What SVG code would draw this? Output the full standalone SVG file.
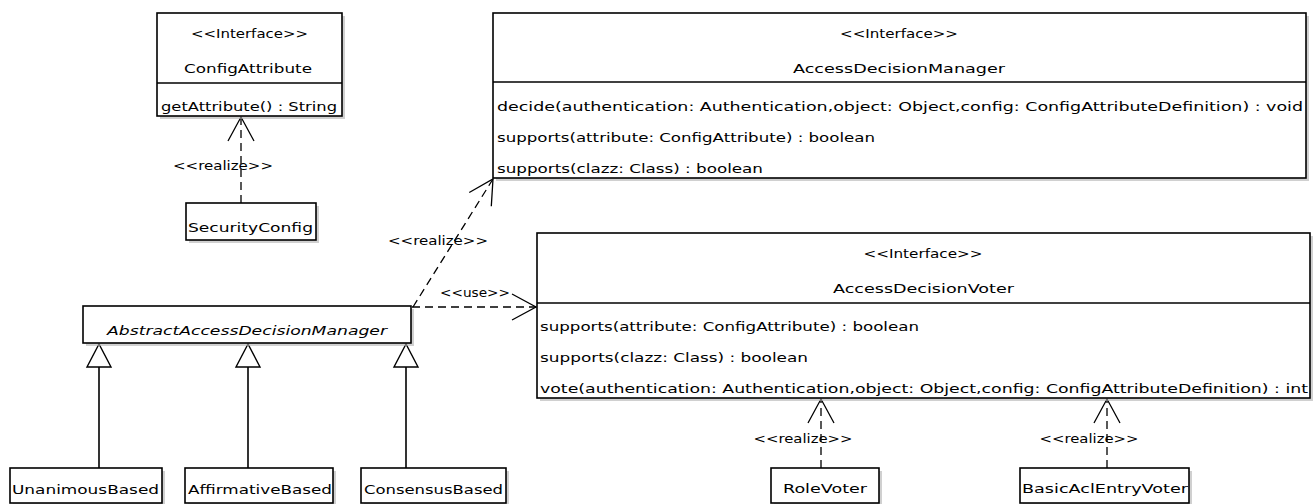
<svg xmlns="http://www.w3.org/2000/svg" width="1315" height="504" viewBox="0 0 1315 504">
<style>
  .box { fill: #fff; stroke: #000; stroke-width: 1.6; }
  .sh { fill: #b0b0b0; opacity: 0.6; }
  .div { stroke: #000; stroke-width: 1.6; }
  text { font-family: "DejaVu Sans", "Liberation Sans", sans-serif; font-size: 13px; fill: #000; }
  .c { text-anchor: middle; }
  .it { font-style: italic; }
  .dash { fill: none; stroke: #000; stroke-width: 1.3; stroke-dasharray: 8 5; }
  .solid { fill: none; stroke: #000; stroke-width: 1.6; }
  .tri { fill: #fff; stroke: #000; stroke-width: 1.4; }
</style>
<defs>
  <marker id="open" markerWidth="30" markerHeight="30" refX="24" refY="13" orient="auto" markerUnits="userSpaceOnUse" overflow="visible">
    <path d="M0,0 L24,13 L0,26" fill="none" stroke="#000" stroke-width="1.3" stroke-dasharray="none"/>
  </marker>
</defs>

<g id="connectors">
  <!-- SecurityConfig realizes ConfigAttribute -->
  <path class="dash" d="M241,203 L241,117" marker-end="url(#open)"/>
  <text x="223" y="170" class="c" textLength="100" lengthAdjust="spacingAndGlyphs">&lt;&lt;realize&gt;&gt;</text>
  <!-- AbstractAccessDecisionManager realizes AccessDecisionManager -->
  <path class="dash" d="M413,307 L493,179" marker-end="url(#open)"/>
  <text x="438" y="245" class="c" textLength="100" lengthAdjust="spacingAndGlyphs">&lt;&lt;realize&gt;&gt;</text>
  <!-- use -->
  <path class="dash" d="M412,307 L536,307" marker-end="url(#open)"/>
  <text x="475" y="297" class="c" textLength="70" lengthAdjust="spacingAndGlyphs">&lt;&lt;use&gt;&gt;</text>
  <!-- RoleVoter realize -->
  <path class="dash" d="M821,468 L821,399" marker-end="url(#open)"/>
  <text x="803" y="443" class="c" textLength="99" lengthAdjust="spacingAndGlyphs">&lt;&lt;realize&gt;&gt;</text>
  <!-- BasicAclEntryVoter realize -->
  <path class="dash" d="M1107,468 L1107,399" marker-end="url(#open)"/>
  <text x="1089" y="443" class="c" textLength="99" lengthAdjust="spacingAndGlyphs">&lt;&lt;realize&gt;&gt;</text>
  <!-- generalizations -->
  <path class="solid" d="M99,468 L99,367"/>
  <polygon class="tri" points="99,344 87,367 111,367"/>
  <path class="solid" d="M248,468 L248,367"/>
  <polygon class="tri" points="248,344 236,367 260,367"/>
  <path class="solid" d="M406,468 L406,367"/>
  <polygon class="tri" points="406,344 394,367 418,367"/>
</g>

<g id="ConfigAttribute">
  <rect class="sh" x="160" y="16" width="185" height="103"/>
  <rect class="box" x="157" y="13" width="185" height="103"/>
  <line class="div" x1="157" y1="83" x2="342" y2="83"/>
  <text x="249.5" y="38" class="c" textLength="117" lengthAdjust="spacingAndGlyphs">&lt;&lt;Interface&gt;&gt;</text>
  <text x="248" y="73" class="c" textLength="128" lengthAdjust="spacingAndGlyphs">ConfigAttribute</text>
  <text x="161" y="111" textLength="176" lengthAdjust="spacingAndGlyphs">getAttribute() : String</text>
</g>

<g id="SecurityConfig">
  <rect class="sh" x="189" y="206" width="130" height="37"/>
  <rect class="box" x="186" y="203" width="130" height="37"/>
  <text x="188" y="232" textLength="125" lengthAdjust="spacingAndGlyphs">SecurityConfig</text>
</g>

<g id="AccessDecisionManager">
  <rect class="sh" x="496" y="16" width="813" height="165"/>
  <rect class="box" x="493" y="13" width="813" height="165"/>
  <line class="div" x1="493" y1="82" x2="1306" y2="82"/>
  <text x="899" y="38" class="c" textLength="118" lengthAdjust="spacingAndGlyphs">&lt;&lt;Interface&gt;&gt;</text>
  <text x="899" y="73" class="c" textLength="212" lengthAdjust="spacingAndGlyphs">AccessDecisionManager</text>
  <text x="497" y="111" textLength="806" lengthAdjust="spacingAndGlyphs">decide(authentication: Authentication,object: Object,config: ConfigAttributeDefinition) : void</text>
  <text x="497" y="142" textLength="378" lengthAdjust="spacingAndGlyphs">supports(attribute: ConfigAttribute) : boolean</text>
  <text x="497" y="173" textLength="266" lengthAdjust="spacingAndGlyphs">supports(clazz: Class) : boolean</text>
</g>

<g id="AccessDecisionVoter">
  <rect class="sh" x="540" y="236" width="773" height="165"/>
  <rect class="box" x="537" y="233" width="773" height="165"/>
  <line class="div" x1="537" y1="303" x2="1310" y2="303"/>
  <text x="923" y="258" class="c" textLength="119" lengthAdjust="spacingAndGlyphs">&lt;&lt;Interface&gt;&gt;</text>
  <text x="923.5" y="293" class="c" textLength="181" lengthAdjust="spacingAndGlyphs">AccessDecisionVoter</text>
  <text x="540" y="331" textLength="379" lengthAdjust="spacingAndGlyphs">supports(attribute: ConfigAttribute) : boolean</text>
  <text x="540" y="362" textLength="268" lengthAdjust="spacingAndGlyphs">supports(clazz: Class) : boolean</text>
  <text x="540" y="393" textLength="768" lengthAdjust="spacingAndGlyphs">vote(authentication: Authentication,object: Object,config: ConfigAttributeDefinition) : int</text>
</g>

<g id="AbstractAccessDecisionManager">
  <rect class="sh" x="86" y="309" width="328" height="37"/>
  <rect class="box" x="83" y="306" width="328" height="37"/>
  <text x="247" y="335" class="c it" textLength="280" lengthAdjust="spacingAndGlyphs">AbstractAccessDecisionManager</text>
</g>

<g id="UnanimousBased">
  <rect class="sh" x="13" y="471" width="152" height="35"/>
  <rect class="box" x="10" y="468" width="152" height="35"/>
  <text x="12" y="494" textLength="147" lengthAdjust="spacingAndGlyphs">UnanimousBased</text>
</g>

<g id="AffirmativeBased">
  <rect class="sh" x="188" y="471" width="148" height="35"/>
  <rect class="box" x="185" y="468" width="148" height="35"/>
  <text x="188" y="494" textLength="144" lengthAdjust="spacingAndGlyphs">AffirmativeBased</text>
</g>

<g id="ConsensusBased">
  <rect class="sh" x="364" y="471" width="145" height="35"/>
  <rect class="box" x="361" y="468" width="145" height="35"/>
  <text x="364" y="494" textLength="139" lengthAdjust="spacingAndGlyphs">ConsensusBased</text>
</g>

<g id="RoleVoter">
  <rect class="sh" x="774" y="471" width="108" height="35"/>
  <rect class="box" x="771" y="468" width="108" height="35"/>
  <text x="825" y="493" class="c" textLength="84" lengthAdjust="spacingAndGlyphs">RoleVoter</text>
</g>

<g id="BasicAclEntryVoter">
  <rect class="sh" x="1023" y="471" width="169" height="35"/>
  <rect class="box" x="1020" y="468" width="169" height="35"/>
  <text x="1022" y="493" textLength="166" lengthAdjust="spacingAndGlyphs">BasicAclEntryVoter</text>
</g>
</svg>
